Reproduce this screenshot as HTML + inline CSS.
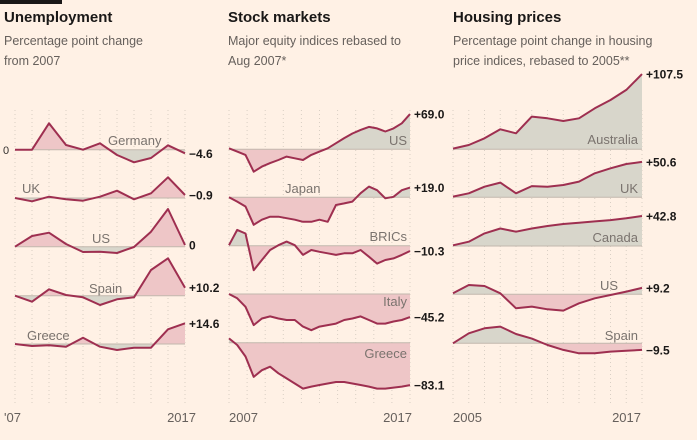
<!DOCTYPE html>
<html><head><meta charset="utf-8">
<style>
html,body{margin:0;padding:0;background:#fff1e5;}
body{width:697px;height:440px;overflow:hidden;position:relative;font-family:"Liberation Sans",sans-serif;}
.t{position:absolute;font-weight:bold;font-size:15px;color:#1a1817;top:9px;}
.s{position:absolute;font-size:12.5px;color:#66605c;line-height:20px;top:31px;}
svg{position:absolute;left:0;top:0;}
</style></head><body>
<div style="position:absolute;left:0;top:0;width:62px;height:4px;background:#1a1817"></div>
<div class="t" style="left:4px">Unemployment</div>
<div class="s" style="left:4px">Percentage point change<br>from 2007</div>
<div class="t" style="left:228px">Stock markets</div>
<div class="s" style="left:228px">Major equity indices rebased to<br>Aug 2007*</div>
<div class="t" style="left:453px">Housing prices</div>
<div class="s" style="left:453px">Percentage point change in housing<br>price indices, rebased to 2005**</div>
<svg id="chart" width="697" height="440"></svg>
<script>
// Unemployment (pp change, drawn 1 unit = 1px)
const unempNames=["Germany","UK","US","Spain","Greece"];
const unempLabels=["−4.6","−0.9","0","+10.2","+14.6"];
const unGermany=[0,0,26.4,4.7,0,6.4,-5.3,-12.6,-8.3,4.4,-3.6];
const unUK=[0,-3.3,1.3,-1.3,-2.7,1.3,7.3,-1.3,4.7,20.7,3];
const unUS=[0,10.7,14,2.7,-5.3,-5,-6.3,-0.3,15,37.7,1.7];
const unSpain=[0,-6,6.4,0.7,-1.6,-9.3,-3.6,-1.6,25.7,37.4,8];
const unGreece=[0,-2,-1.3,-2.7,6.3,-2.7,-6,-3.7,-3.7,14.7,20.7];
// Stock markets (% rebased)
const stockNames=["US","Japan","BRICs","Italy","Greece"];
const stockLabels=["+69.0","+19.0","−10.3","−45.2","−83.1"];
const stUS=[2,-4.6,-11,-44,-34,-27,-21,-14.4,-17.7,-21,-11,-4.6,2,12,22,31,38,44,41,35,41,51,69];
const stJapan=[0,-8.5,-18,-54,-44,-38,-38,-41,-44,-48,-48,-44,-48,-15,-12,-8.5,8,21,14,-2,1,14,19];
const stBRICs=[1,31,24,-48,-28,-8.5,1,8,1,-18,-8.5,-12,-15,-18,-15,-15,-8.5,-21.6,-35,-28,-25,-18,-10.3];
const stItaly=[0,-8.5,-25,-61,-48,-44,-48,-51,-51,-64,-71,-64,-61,-58,-51,-48,-44,-51,-58,-58,-54,-51,-45.2];
const stGreece=[8.5,-4.6,-27,-67,-54,-47,-60,-70,-80,-90,-86,-83,-80,-77,-77,-80,-83,-86,-90,-90,-88,-86,-83.1];
// Housing (% rebased to 2005)
const houseNames=["Australia","UK","Canada","US","Spain"];
const houseLabels=["+107.5","+50.6","+42.8","+9.2","−9.5"];
const hoAustralia=[1,6.2,15.7,28.6,22.9,46.7,44.3,40.5,44.3,58.6,70.5,84.8,107.5];
const hoUK=[1,5.7,15.2,21,5.7,16,15.2,17.6,22.4,34.3,41.4,47.6,50.6];
const hoCanada=[1,6.2,18,25,20.5,25,28.6,31.4,33.3,35.2,37,39.5,42.8];
const hoUS=[1.4,13.3,11.9,1.4,-20,-17.6,-21.4,-23.3,-12.9,-5.7,-1,3.8,9.2];
const hoSpain=[0,14.3,21.4,23.8,13.3,6.7,-2.4,-9.5,-14.3,-14.3,-11.9,-10.5,-9.5];
const axisTicks=["'07","2017","2007","2017","2005","2017"];

const svg=document.getElementById('chart');
const NS='http://www.w3.org/2000/svg';
function mk(tag,at){const e=document.createElementNS(NS,tag);for(const k in at)e.setAttribute(k,at[k]);svg.appendChild(e);return e;}
let cid=0;
function grid(x0,x1,n){for(let i=0;i<=n;i++){const x=x0+(x1-x0)*i/n;const g=mk('line',{x1:x,x2:x,y1:110,y2:405,stroke:'#d9cfc4','stroke-width':1,'stroke-dasharray':'1 3'});

}}
function panel(series,names,labels,x0,x1,bases,scale,upColor,downColor,nameSpots,pre){
  series.forEach((d,si)=>{
    const b=bases[si];const n=d.length;
    const X=i=>x0+(x1-x0)*i/(n-1);const Y=v=>b-v*scale;
    const pts=d.map((v,i)=>X(i).toFixed(1)+','+Y(v).toFixed(1));
    const area='M'+X(0)+','+b+' L'+pts.join(' L')+' L'+X(n-1)+','+b+'Z';
    const c1='c'+(cid++),c2='c'+(cid++);
    const defs=mk('defs',{});
    defs.innerHTML=`<clipPath id="${c1}"><rect x="0" y="0" width="697" height="${b}"/></clipPath><clipPath id="${c2}"><rect x="0" y="${b}" width="697" height="${440-b}"/></clipPath>`;
    const a1=mk('path',{d:area,fill:upColor,'clip-path':`url(#${c1})`});
    
    
    const a2=mk('path',{d:area,fill:downColor,'clip-path':`url(#${c2})`});
    
    
    const bl=mk('line',{x1:X(0),x2:X(n-1),y1:b,y2:b,stroke:'#c2b8ad','stroke-width':1});
    
    
    const ln=mk('polyline',{points:pts.join(' '),fill:'none',stroke:'#9e2f50','stroke-width':2,'stroke-linejoin':'round'});
    
    
    const lb=mk('text',{x:X(n-1)+4,y:Y(d[n-1])+4.5,'font-size':12,'font-weight':'bold',fill:'#1a1817'});
    lb.textContent=labels[si];
    
    
    const sp=nameSpots[si];
    const nm=mk('text',{x:sp[0],y:sp[1],'font-size':13,fill:'#7a736e','text-anchor':sp[2]||'start'});
    nm.textContent=names[si];
    
    
  });
}
grid(15,185,10);grid(229,410,10);grid(453,642,12);
const PINK='#eec6c7',GREY='#d8d6cb';
panel([unGermany,unUK,unUS,unSpain,unGreece],unempNames,unempLabels,15,185,[149.7,198,246.7,295.7,344],1,PINK,GREY,
  [[108,145],[22,193],[92,243],[89,293],[27,340]],'unemployment');
panel([stUS,stJapan,stBRICs,stItaly,stGreece],stockNames,stockLabels,229,410,[149.3,197.3,245.7,294,342.7],0.51,GREY,PINK,
  [[407,145,'end'],[285,193],[407,241,'end'],[407,306,'end'],[407,358,'end']],'stock');
panel([hoAustralia,hoUK,hoCanada,hoUS,hoSpain],houseNames,houseLabels,453,642,[149.3,197.3,246,294.3,343.3],0.7,GREY,PINK,
  [[638,144,'end'],[638,193,'end'],[638,242,'end'],[600,290],[638,340,'end']],'housing');
const zl=mk('text',{x:3,y:154,'font-size':11,fill:'#33302e'});zl.textContent='0';


const tickPos=[[4,'start'],[196,'end'],[229,'start'],[412,'end'],[453,'start'],[641,'end']];
axisTicks.forEach((t,i)=>{const e=mk('text',{x:tickPos[i][0],y:422,'font-size':13,fill:'#66605c','text-anchor':tickPos[i][1]});e.textContent=t;

});
</script>
</body></html>
